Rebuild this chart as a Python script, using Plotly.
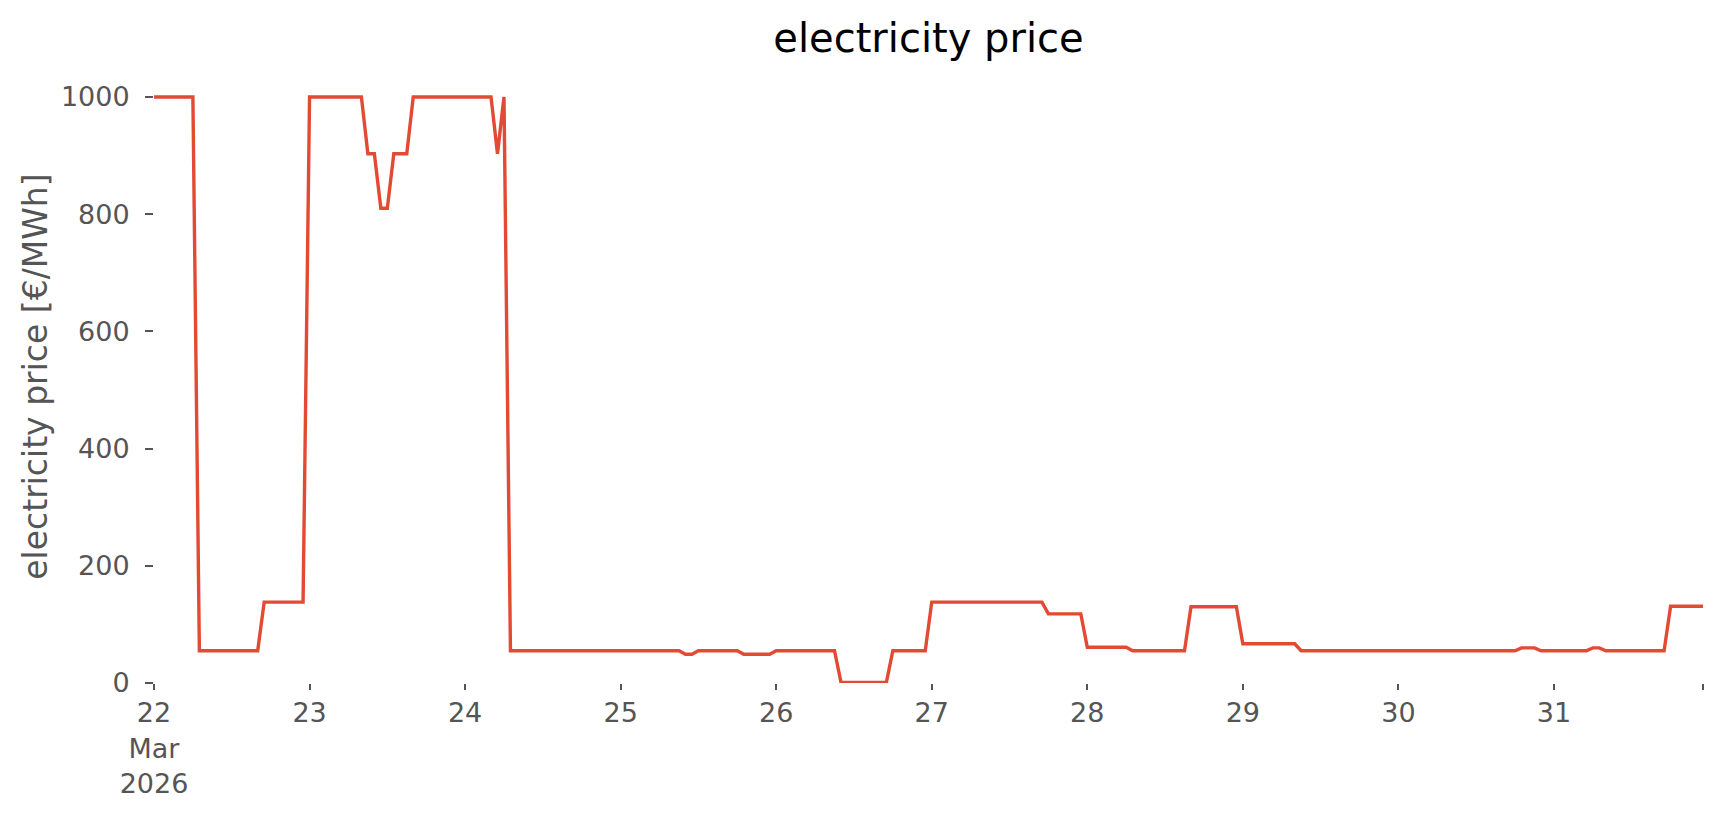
import pandas as pd
import plotly.graph_objects as go

# hourly electricity price [€/MWh], one list per day (hours 0..23)
mar22 = [1000]*7 + [55]*10 + [138]*7
mar23 = [1000]*9 + [903]*2 + [810]*2 + [903]*3 + [1000]*8
mar24 = [1000]*5 + [903] + [1000] + [55]*17
mar25 = [55]*10 + [49]*2 + [55]*7 + [49]*5
mar26 = [55]*10 + [1]*8 + [55]*6
mar27 = [138]*18 + [118]*6
mar28 = [61]*7 + [55]*9 + [130]*8
mar29 = [67]*9 + [55]*15
mar30 = [55]*19 + [60]*3 + [55]*2
mar31 = [55]*6 + [60]*2 + [55]*10 + [131]*6

price = mar22 + mar23 + mar24 + mar25 + mar26 + mar27 + mar28 + mar29 + mar30 + mar31
times = pd.date_range("2026-03-22 00:00", periods=len(price), freq="h")

day_ticks = list(pd.date_range("2026-03-22", "2026-03-31", freq="D")) + [times[-1]]
day_labels = ["22<br>Mar<br>2026", "23", "24", "25", "26", "27", "28", "29", "30", "31", ""]
y_ticks = [0, 200, 400, 600, 800, 1000]

W, H = 1716, 807  # page body has an 8px default margin

fig = go.Figure()
fig.add_trace(go.Scatter(x=times, y=price, mode="lines",
                         line=dict(color="#E24A33", width=3.4),
                         showlegend=False, hoverinfo="x+y"))

fig.update_layout(
    width=W, height=H,
    margin=dict(l=146, r=21, t=86, b=132),
    paper_bgcolor="white", plot_bgcolor="white",
    font=dict(family="DejaVu Sans", size=27, color="#555555"),
    title=dict(text="electricity price", x=(146 + (W - 21 - 146) / 2) / W, xanchor="center",
               y=1 - 30 / H, yanchor="middle", yref="container",
               font=dict(family="DejaVu Sans", size=40, color="black")),
    annotations=[dict(text="electricity price [€/MWh]", textangle=-90,
                      xref="paper", yref="paper", x=0, y=0.52,
                      xanchor="center", yanchor="middle", xshift=-118,
                      showarrow=False,
                      font=dict(family="DejaVu Sans", size=33, color="#555555"))],
)
fig.update_xaxes(range=[times[0], times[-1]], tickmode="array",
                 tickvals=day_ticks, ticktext=day_labels,
                 showgrid=False, zeroline=False, showline=False,
                 ticks="outside", ticklen=6, tickwidth=1.5, tickcolor="#555555",
                 tickfont=dict(size=27, color="#555555"))
fig.update_yaxes(range=[0, 1005], tickmode="array", tickvals=y_ticks,
                 showgrid=False, zeroline=False, showline=False,
                 ticks="outside", ticklen=8, tickwidth=1.5, tickcolor="#555555",
                 ticklabelstandoff=10,
                 tickfont=dict(size=27, color="#555555"))

fig.write_html("out.html")
